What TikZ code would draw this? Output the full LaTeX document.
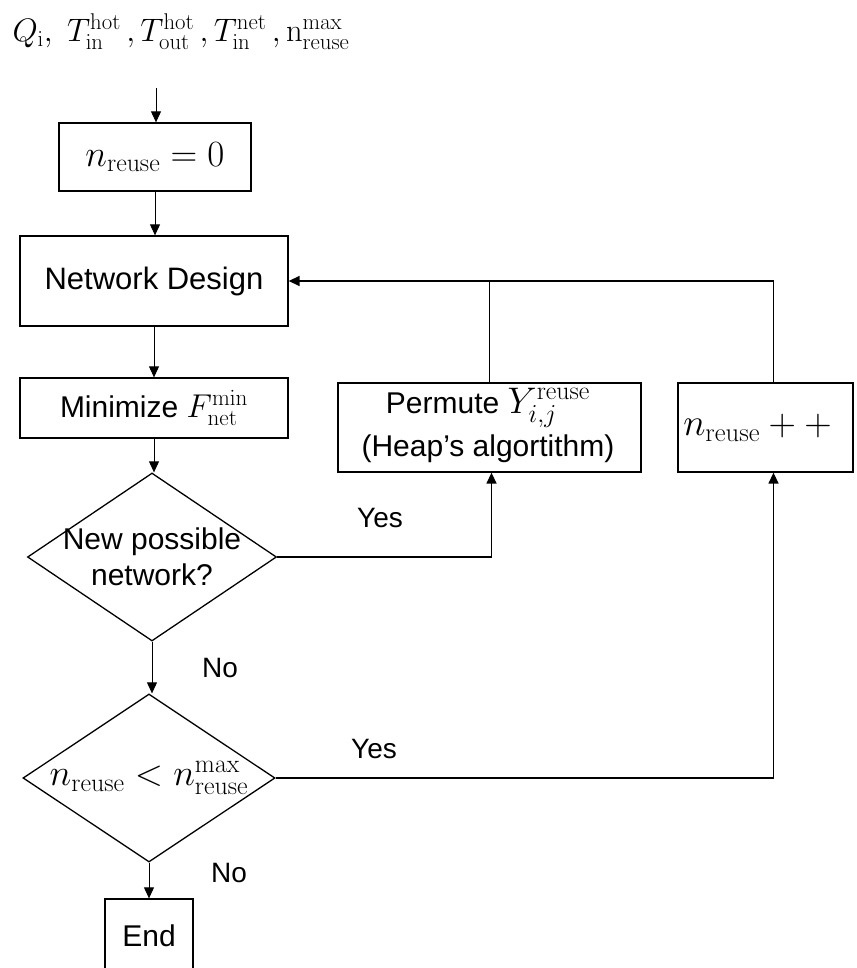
\RequirePackage{fix-cm}
\documentclass[tikz,border=0pt]{standalone}
\usepackage[no-math]{fontspec}
\setmainfont{Liberation Sans}
\usetikzlibrary{shapes.geometric,arrows.meta}

% larger size for formulas inside the boxes
\newcommand{\fsz}[1]{\fontsize{#1}{1.2\dimexpr #1pt\relax}\selectfont}

\tikzset{
  txt/.style={font=\fsz{30}},
  lbl/.style={font=\fsz{28}},
  stepbox/.style={draw, line width=1.3pt, rectangle, inner sep=0pt, txt, align=center},
  decision/.style={draw, line width=1.3pt, diamond, inner sep=0pt},
  flow/.style={line width=0.9pt, -{Triangle[length=11pt,width=10pt]}},
  back/.style={line width=1.4pt, -{Triangle[length=11pt,width=10pt]}},
  backline/.style={line width=1.4pt}
}

\begin{document}
\begin{tikzpicture}[x=1pt,y=-1pt]
  \useasboundingbox (0,0) rectangle (856,968);

  % inputs
  \node[font=\fsz{32.5}, inner sep=0pt] (inputs) at (181,32)
    {$Q_{\mathrm{i}},\ T_{\mathrm{in}}^{\mathrm{hot}}\,,T_{\mathrm{out}}^{\mathrm{hot}}\,,T_{\mathrm{in}}^{\mathrm{net}}\,,\mathrm{n}_{\mathrm{reuse}}^{\mathrm{max}}$};
  \coordinate (instart) at (156,88);

  % process boxes
  \node[stepbox, minimum width=192pt, minimum height=68pt, font=\fsz{37}] (init) at (155,157)
    {$n_{\mathrm{reuse}} = 0$};
  \node[stepbox, minimum width=268pt, minimum height=90pt, font=\fsz{31}] (design) at (154,281)
    {Network Design};
  \node[stepbox, minimum width=268pt, minimum height=60pt] (minimize) at (154,408)
    {Minimize {\fsz{33}$F_{\mathrm{net}}^{\mathrm{min}}$}};
  \node[stepbox, minimum width=303pt, minimum height=89pt] (permute) at (489.5,427.5) {};
  \node[txt, align=center, inner sep=0pt] (permtxt) at (488,425)
    {{\fsz{30}Permute \fsz{37}$Y_{i,j}^{\mathrm{reuse}}$}\\[7pt](Heap’s algortithm)};
  \node[stepbox, minimum width=175pt, minimum height=89pt,
        label={[font=\fsz{38}, xshift=-8pt]center:$n_{\mathrm{reuse}} + +$}] (incr) at (765.5,427.5) {};

  % decisions
  \node[decision, minimum width=249pt, minimum height=168pt,
        label={[txt, align=center]center:New possible\\network?}] (dec1) at (152,557) {};
  \node[decision, minimum width=252pt, minimum height=168pt,
        label={[font=\fsz{37}]center:$n_{\mathrm{reuse}}<n_{\mathrm{reuse}}^{\mathrm{max}}$}] (dec2) at (149,778) {};

  % end
  \node[stepbox, minimum width=88pt, minimum height=74pt] (endbox) at (149,936) {End};

  % main flow
  \draw[flow] (instart) -- (instart |- init.north);
  \draw[flow] (init.south) -- (init.south |- design.north);
  \draw[flow] (design.south) -- (minimize.north);
  \draw[flow] (minimize.south) -- (minimize.south |- dec1.north);
  \draw[flow] (dec1.south) -- (dec1.south |- dec2.north);
  \draw[flow] (dec2.south) -- (endbox.north);

  % branches
  \draw[back] (dec1.east) -| ([xshift=2pt]permute.south);
  \draw[back] (dec2.east) -| ([xshift=8pt]incr.south);
  \draw[backline] ([xshift=8pt]incr.north) |- (permute.north |- design.east);
  \draw[back] (permute.north) |- (design.east);

  % branch labels
  \node[lbl] (yes1) at (380,518) {Yes};
  \node[lbl] (no1) at (220,668) {No};
  \node[lbl] (yes2) at (374,749) {Yes};
  \node[lbl] (no2) at (229,873) {No};
\end{tikzpicture}
\end{document}
